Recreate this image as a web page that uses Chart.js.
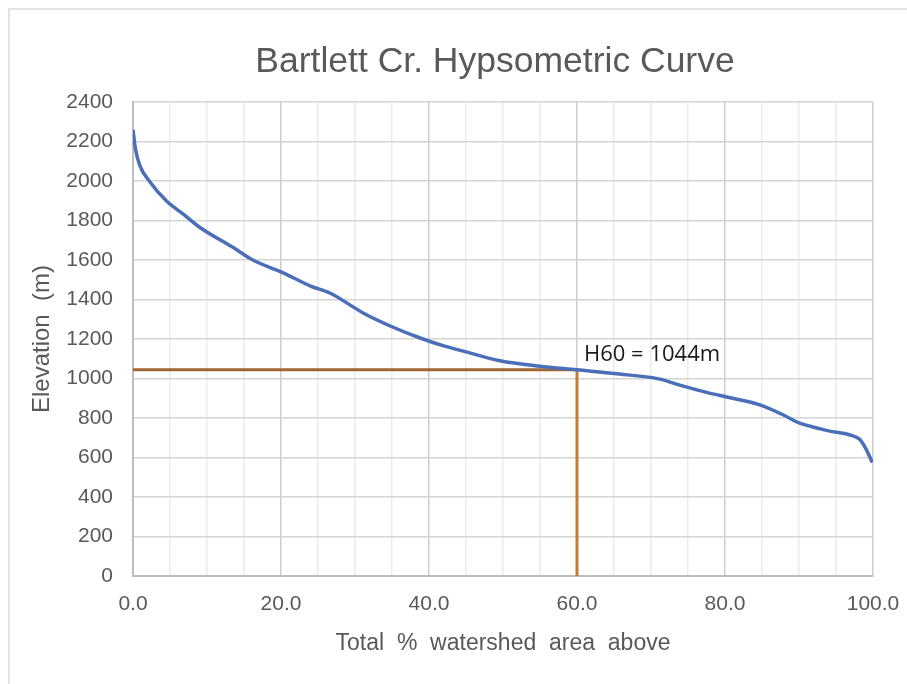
<!DOCTYPE html>
<html>
<head>
<meta charset="utf-8">
<script src="https://cdn.jsdelivr.net/npm/chart.js@4"></script>
<style>
  body { margin: 0; background: #fff; }
  #wrap { position: relative; width: 907px; height: 684px; }
  #frame { position: absolute; left: 8px; top: 8px; right: 0; bottom: 0;
           border-left: 2px solid #e3e3e3; border-top: 2px solid #e3e3e3; }
  canvas { position: absolute; left: 0; top: 0; }
</style>
</head>
<body>
<div id="wrap">
  <div id="frame"></div>
  <canvas id="chart" width="907" height="684"></canvas>
</div>
<script>
// Hypsometric curve
const areaAbove = [0, 0.3, 0.9, 2.3, 4.5, 6.8, 9, 13.5, 16.2, 20.3, 24, 26.6, 31.1, 35, 38.8, 42, 45, 49.6, 55, 60, 65, 71.2, 74, 77.5, 81, 84.7, 87.9, 90, 91.5, 94, 96.9, 98.2, 99.1, 99.9];
const elevation = [2260, 2170, 2080, 1995, 1900, 1832, 1766, 1664, 1600, 1535, 1468, 1433, 1332, 1262, 1205, 1165, 1135, 1090, 1062, 1044, 1025, 997, 965, 930, 900, 866, 815, 775, 758, 735, 714, 692, 640, 575];

// H60 marker
const h60Area = 60;
const h60Elev = 1044;
const h60Label = 'H60 = 1044m';

const xTicks = [0, 20, 40, 60, 80, 100];
const chartTitle = 'Bartlett Cr. Hypsometric Curve';

const curve = areaAbove.map((x, i) => ({ x: x, y: elevation[i] }));

// title sits over the plot area, not the whole canvas
const textPlugin = {
  id: 'texts',
  afterDatasetsDraw(chart) {
    const ctx = chart.ctx;
    const area = chart.chartArea;
    ctx.save();
    ctx.font = '35.5px "Liberation Sans", Arial, sans-serif';
    ctx.fillStyle = '#595959';
    ctx.textAlign = 'center';
    ctx.textBaseline = 'middle';
    ctx.fillText(chartTitle, (area.left + area.right) / 2 - 8, 62);

    const x = chart.scales.x.getPixelForValue(h60Area);
    const y = chart.scales.y.getPixelForValue(h60Elev);
    ctx.font = '22px "Open Sans", sans-serif';
    ctx.fillStyle = '#1a1a1a';
    ctx.textAlign = 'left';
    ctx.textBaseline = 'alphabetic';
    ctx.fillText(h60Label, x + 7, y - 9);
    ctx.restore();
  }
};

new Chart(document.getElementById('chart'), {
  type: 'scatter',
  data: {
    datasets: [
      {
        label: 'Hypsometric curve',
        data: curve,
        showLine: true,
        borderColor: '#4a6fb8',
        borderWidth: 3.5,
        pointRadius: 0,
        cubicInterpolationMode: 'monotone'
      },
      {
        label: 'H60 horizontal',
        data: [{ x: 0, y: h60Elev }, { x: h60Area, y: h60Elev }],
        showLine: true,
        borderColor: '#9e6632',
        borderWidth: 3,
        pointRadius: 0
      },
      {
        label: 'H60 vertical',
        data: [{ x: h60Area, y: 0 }, { x: h60Area, y: h60Elev }],
        showLine: true,
        borderColor: '#c47a34',
        borderWidth: 3,
        pointRadius: 0
      }
    ]
  },
  options: {
    responsive: false,
    animation: false,
    layout: { padding: { left: 0, right: 34, top: 102, bottom: 0 } },
    plugins: {
      legend: { display: false },
      tooltip: { enabled: false },
      title: { display: false }
    },
    scales: {
      x: {
        type: 'linear',
        min: 0,
        max: 100,
        afterFit: (s) => { s.height = 108; s.paddingLeft = 0; s.paddingRight = 0; },
        ticks: {
          stepSize: 5,
          autoSkip: false,
          maxRotation: 0,
          padding: 16,
          color: '#595959',
          font: { family: '"Liberation Sans", Arial, sans-serif', size: 21 },
          callback: (v) => xTicks.includes(v) ? v.toFixed(1) : ''
        },
        grid: {
          drawTicks: false,
          color: (c) => (c.tick && c.tick.value % 20 === 0) ? '#cdcdcd' : '#ebebeb',
          lineWidth: 1.5
        },
        border: { color: '#bdbdbd', width: 2 },
        title: {
          display: true,
          text: 'Total  %  watershed  area  above',
          color: '#595959',
          font: { family: '"Liberation Sans", Arial, sans-serif', size: 23 },
          padding: { top: 0, bottom: 27 }
        }
      },
      y: {
        min: 0,
        max: 2400,
        afterFit: (s) => { s.width = 133; },
        ticks: {
          stepSize: 200,
          padding: 20,
          color: '#595959',
          font: { family: '"Liberation Sans", Arial, sans-serif', size: 21 },
          callback: (v) => String(v)
        },
        grid: {
          drawTicks: false,
          color: '#d4d4d4',
          lineWidth: 1.5
        },
        border: { color: '#bdbdbd', width: 2 },
        title: {
          display: true,
          text: 'Elevation  (m)',
          color: '#595959',
          font: { family: '"Liberation Sans", Arial, sans-serif', size: 24 },
          padding: { top: 28, bottom: 0 }
        }
      }
    }
  },
  plugins: [textPlugin]
});
</script>
</body>
</html>
